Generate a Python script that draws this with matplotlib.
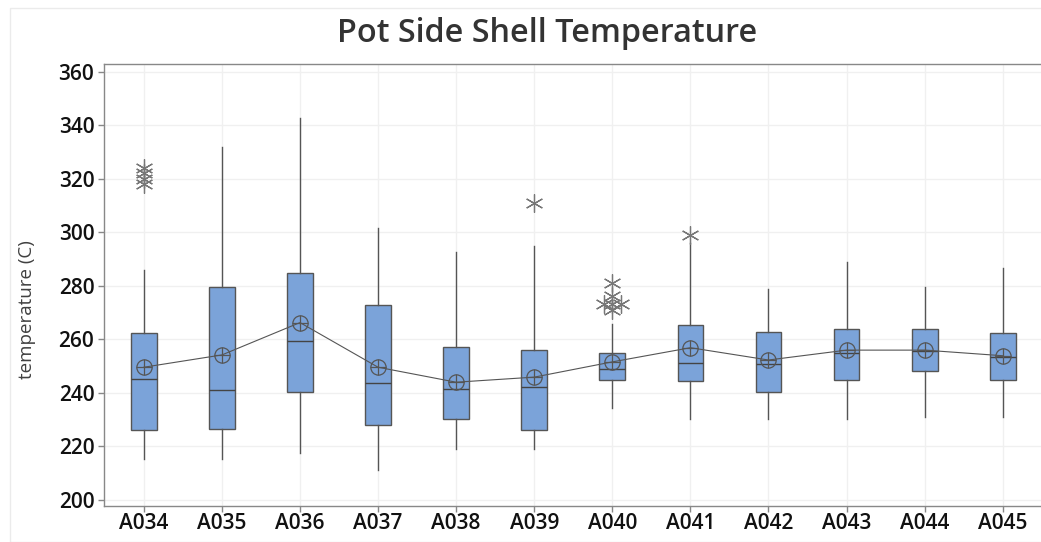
import matplotlib
matplotlib.use("Agg")
import matplotlib.pyplot as plt
from matplotlib.patches import Rectangle

categories = ["A034", "A035", "A036", "A037", "A038", "A039",
              "A040", "A041", "A042", "A043", "A044", "A045"]
whisker_low = [215.1, 215.1, 217.3, 211.1, 218.9, 218.9, 234.2, 230.0, 230.3, 230.3, 231.0, 231.0]
q1 = [226.0, 226.4, 240.4, 227.9, 230.0, 226.1, 244.9, 244.4, 240.3, 244.9, 248.0, 244.9]
median = [245.0, 241.0, 259.4, 243.5, 241.4, 242.0, 248.9, 251.0, 250.6, 254.7, 255.7, 253.2]
q3 = [262.4, 279.6, 284.6, 272.8, 257.0, 255.9, 254.8, 265.2, 262.8, 263.7, 263.7, 262.4]
whisker_high = [285.9, 331.7, 342.6, 301.5, 292.7, 294.8, 265.8, 295.8, 278.7, 288.9, 279.6, 286.7]
means = [249.5, 254.1, 266.2, 249.5, 243.9, 245.8, 251.5, 256.8, 252.2, 255.9, 255.9, 253.8]
outliers = [[318.0, 320.0, 322.0, 324.0], [], [], [], [], [310.8],
            [281.0, 276.0, 273.0, 273.0, 273.0, 271.0], [299.0], [], [], [], []]
outlier_offsets = [[0, 0, 0, 0], [], [], [], [], [0],
                   [0, 0, -0.11, 0, 0.11, 0], [0], [], [], [], []]

W, H = 1041, 542
fig = plt.figure(figsize=(W / 100, H / 100), dpi=100)
fig.patches.append(Rectangle((10 / W, 0), 1.0, 1 - 8 / H, transform=fig.transFigure,
                             fill=False, edgecolor="#EBEBEB", linewidth=1.0))
ax = fig.add_axes([104 / W, 1 - 506 / H, (W - 104) / W, (506 - 64.3) / H])

stats = []
for i, c in enumerate(categories):
    stats.append(dict(label=c, whislo=whisker_low[i], q1=q1[i], med=median[i],
                      q3=q3[i], whishi=whisker_high[i], mean=means[i], fliers=[]))

pos = list(range(len(categories)))
ax.bxp(stats, positions=pos, widths=0.33, patch_artist=True, showcaps=False,
       showfliers=False, showmeans=False,
       boxprops=dict(facecolor="#7BA3D9", edgecolor="#555555", linewidth=1.0),
       medianprops=dict(color="#444444", linewidth=1.0),
       whiskerprops=dict(color="#555555", linewidth=1.0), zorder=3)

# mean connect line and mean symbols
ax.plot(pos, means, color="#555555", linewidth=0.8, zorder=4)
ax.plot(pos, means, linestyle="none", marker="o", markersize=11, markerfacecolor="none",
        markeredgecolor="#555555", markeredgewidth=0.9, zorder=5)
ax.plot(pos, means, linestyle="none", marker="+", markersize=11,
        markeredgecolor="#555555", markeredgewidth=0.9, zorder=5)

# outliers as asterisks
for i, (vals, offs) in enumerate(zip(outliers, outlier_offsets)):
    for v, o in zip(vals, offs):
        ax.plot([i + o], [v], marker=(6, 2, 0), markersize=13, color="#777777",
                markeredgewidth=0.9, linestyle="none", zorder=6)

ax.set_xlim(-0.51, 11.49)
ax.set_ylim(197.6, 362.8)
ax.set_yticks(range(200, 361, 20))
ax.set_xticks(pos)
ax.set_xticklabels(categories)

ax.grid(True, color="#F0F0F0", linewidth=1.0, zorder=0)
ax.set_axisbelow(True)
for side in ["left", "bottom", "top"]:
    ax.spines[side].set_color("#888888")
    ax.spines[side].set_linewidth(1.0)
ax.spines["right"].set_visible(False)

ax.tick_params(axis="both", direction="out", length=4, color="#888888", width=1.0)
for lab in ax.get_yticklabels() + ax.get_xticklabels():
    lab.set_fontfamily("Open Sans")
    lab.set_fontweight("semibold")
    lab.set_fontsize(15)
    lab.set_color("#111111")
ax.tick_params(axis="y", pad=3)
ax.tick_params(axis="x", pad=1)

ax.set_ylabel("temperature (C)", fontfamily="Open Sans", fontsize=13.5, color="#404040")
ax.yaxis.set_label_coords(-68 / (W - 104), (506 - 310) / (506 - 64.3))
fig.text(0.526, 1 - 33 / H, "Pot Side Shell Temperature", ha="center", va="center",
         fontfamily="Open Sans", fontweight="semibold", fontsize=23.3, color="#333333")

fig.savefig("out.png", dpi=100)
